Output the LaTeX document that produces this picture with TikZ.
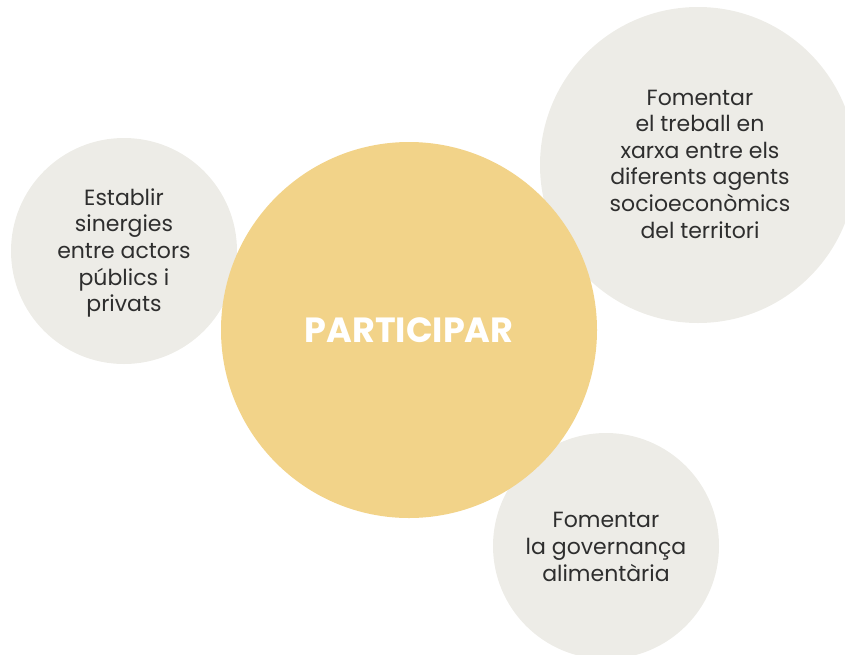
\documentclass[tikz,border=0pt]{standalone}
\usepackage{fontspec}
\setmainfont{Poppins}
\definecolor{ymain}{HTML}{F2D389}
\definecolor{gcirc}{HTML}{EDECE7}
\definecolor{tdark}{HTML}{2E2E2E}
\begin{document}
\begin{tikzpicture}[x=1pt,y=-1pt,
  bubble/.style={circle,fill=gcirc,draw=none,inner sep=0pt},
  core/.style={circle,fill=ymain,draw=none,inner sep=0pt},
  btext/.style={align=center,text=tdark,font=\fontsize{22}{26.6}\selectfont},
  ctext/.style={text=white,font=\bfseries\fontsize{35}{40}\selectfont}]
\useasboundingbox (0,0) rectangle (845,654);
\begin{scope}
\clip (0,0) rectangle (845,654);
\node[bubble,minimum size=226pt] (left) at (124,251) {};
\node[bubble,minimum size=316pt] (topr) at (698,165) {};
\node[bubble,minimum size=226pt] (botr) at (606,546) {};
\node[core,minimum size=376pt] (mid) at (409,330) {};
\end{scope}
\node[btext] (lefttext) at (124,253) {Establir\\sinergies\\entre actors\\públics i\\privats};
\node[btext] (toprtext) at (700,164) {Fomentar\\el treball en\\xarxa entre els\\diferents agents\\socioeconòmics\\del territori};
\node[btext] (botrtext) at (606,547) {Fomentar\\la governança\\alimentària};
\node[ctext] (midtext) at (409,330) {PARTICIPAR};
\end{tikzpicture}
\end{document}
